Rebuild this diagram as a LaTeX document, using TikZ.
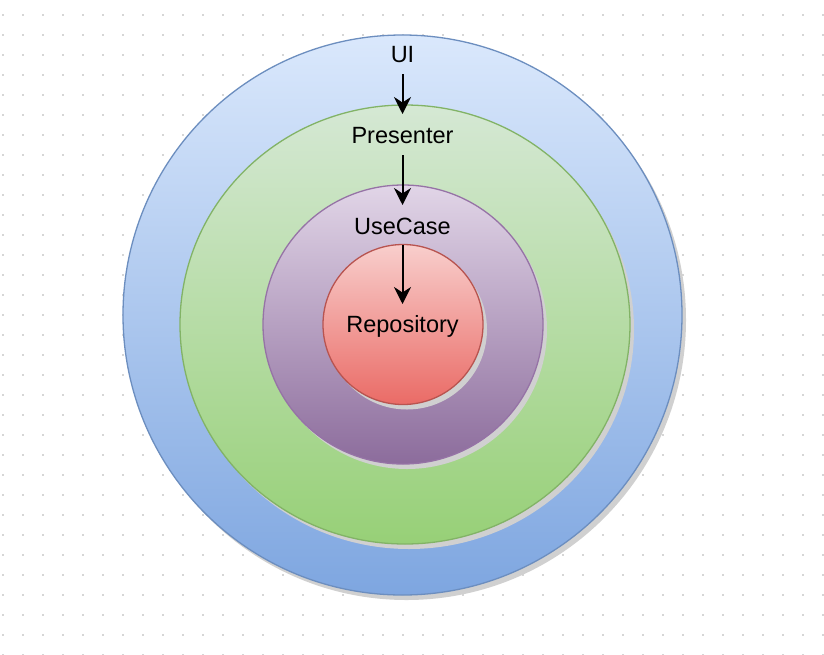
\documentclass[tikz,border=0pt]{standalone}
\usepackage{fontspec}
\setmainfont{Liberation Sans}
\usetikzlibrary{arrows.meta,shapes.geometric,shadows}
\definecolor{dotc}{HTML}{D6D6D6}
\definecolor{shadc}{HTML}{D0D0D0}
\definecolor{blueTop}{HTML}{DAE8FC}
\definecolor{blueBot}{HTML}{7EA6E0}
\definecolor{blueLine}{HTML}{6C8EBF}
\definecolor{greenTop}{HTML}{D5E8D4}
\definecolor{greenBot}{HTML}{97D077}
\definecolor{greenLine}{HTML}{82B366}
\definecolor{purpTop}{HTML}{E1D5E7}
\definecolor{purpBot}{HTML}{8C6C9C}
\definecolor{purpLine}{HTML}{9673A6}
\definecolor{redTop}{HTML}{F8CECC}
\definecolor{redBot}{HTML}{EA6B66}
\definecolor{redLine}{HTML}{B85450}
\tikzset{
  ring/.style={ellipse, inner sep=0pt, line width=1.3pt,
    drop shadow={shadow xshift=4pt, shadow yshift=-5pt, fill=shadc, opacity=1}},
  lbl/.style={font=\fontsize{23.5}{28}\selectfont, inner sep=0pt, text=black},
  arr/.style={line width=2pt, -{Stealth[length=17pt,width=17pt,inset=5.5pt]}}
}
\begin{document}
\begin{tikzpicture}[x=1pt,y=-1pt]
\useasboundingbox (0,0) rectangle (824,654);
\fill[white] (0,0) rectangle (824,654);
\foreach \i in {0,...,41}{
  \foreach \j in {0,...,32}{
    \fill[dotc] (2.4+20*\i,14.4+20*\j) rectangle ++(1.2,1.2);
  }
}
\node[ring, draw=blueLine, top color=blueTop, bottom color=blueBot,
  minimum width=559pt, minimum height=560pt] (blue) at (402.5,315) {};
\node[ring, draw=greenLine, top color=greenTop, bottom color=greenBot,
  minimum width=450pt, minimum height=439pt] (green) at (405,324.5) {};
\node[ring, draw=purpLine, top color=purpTop, bottom color=purpBot,
  minimum width=280pt, minimum height=279pt] (purple) at (403,324.5) {};
\node[ring, draw=redLine, top color=redTop, bottom color=redBot,
  minimum width=160pt, minimum height=160pt] (red) at (403,324.5) {};

\node[lbl] (ui) at (402.5,55) {UI};
\node[lbl] (presenter) at (402.5,135.5) {Presenter};
\node[lbl] (usecase) at (402.5,226) {UseCase};
\node[lbl] (repository) at (402.5,326) {Repository};

\coordinate (s1) at (402.5,74);
\coordinate (e1) at (402.5,114);
\coordinate (s2) at (402.5,155);
\coordinate (e2) at (402.5,205);
\coordinate (s3) at (402.5,245);
\coordinate (e3) at (402.5,304);
\draw[arr] (s1) -- (e1);
\draw[arr] (s2) -- (e2);
\draw[arr] (s3) -- (e3);
\end{tikzpicture}
\end{document}
